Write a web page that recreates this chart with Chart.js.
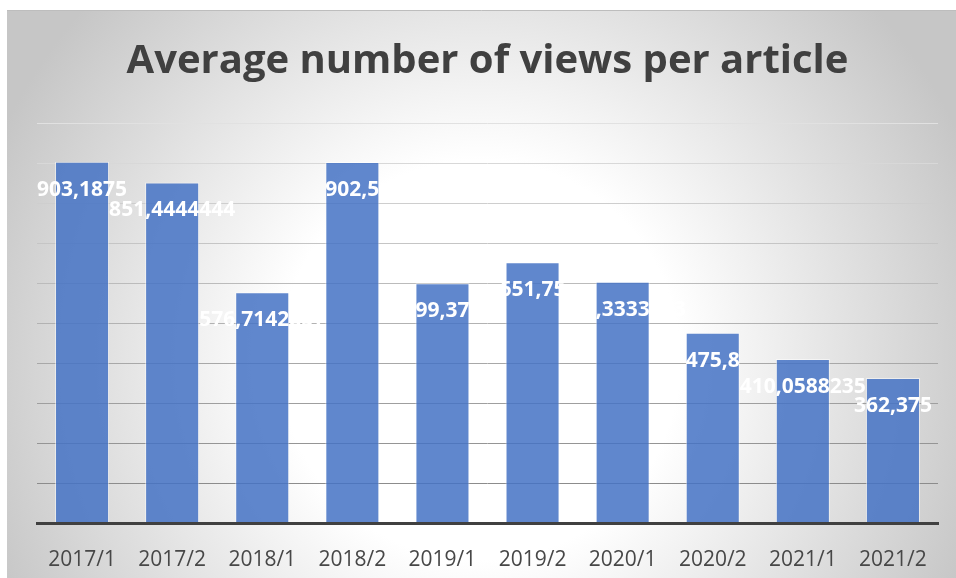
<!DOCTYPE html>
<html>
<head>
<meta charset="utf-8">
<script src="https://cdn.jsdelivr.net/npm/chart.js@4.4.1/dist/chart.umd.min.js"></script>
<style>
  html, body { margin: 0; padding: 0; background: #fff; }
</style>
</head>
<body>
<canvas id="myChart" width="956" height="578"></canvas>
<script>
// data
const periods = ["2017/1", "2017/2", "2018/1", "2018/2", "2019/1", "2019/2", "2020/1", "2020/2", "2021/1", "2021/2"];
const avgViews = [903.1875, 851.4444444, 576.7142857, 902.5, 599.375, 651.75, 603.3333333, 475.8, 410.0588235, 362.375];
const yMin = 0;
const yMax = 1000;
const yStep = 100;

// grey box with the white glow in the middle
const background = {
  id: "background",
  beforeDraw(chart) {
    const ctx = chart.ctx;
    ctx.save();
    ctx.fillStyle = "#fff";
    ctx.fillRect(0, 0, chart.width, chart.height);
    let grad = ctx.createRadialGradient(480, 360, 200, 480, 360, 530);
    grad.addColorStop(0, "#ffffff");
    grad.addColorStop(1, "#c6c6c6");
    ctx.fillStyle = grad;
    ctx.fillRect(7, 10, chart.width - 7, chart.height - 10);
    ctx.strokeStyle = "#bdbdbd";
    ctx.lineWidth = 1;
    ctx.beginPath();
    ctx.moveTo(7, 10.5);
    ctx.lineTo(chart.width, 10.5);
    ctx.stroke();
    ctx.restore();
  },
};

// white value labels, excel style with a decimal comma
const barLabels = {
  id: "barLabels",
  afterDatasetsDraw(chart) {
    const ctx = chart.ctx;
    const meta = chart.getDatasetMeta(0);
    ctx.save();
    ctx.font = "bold 21px 'Open Sans'";
    ctx.fillStyle = "#ffffff";
    ctx.textAlign = "center";
    ctx.textBaseline = "middle";
    meta.data.forEach((bar, i) => {
      const text = String(chart.data.datasets[0].data[i]).replace(".", ",");
      ctx.fillText(text, bar.x, bar.y + 28);
    });
    ctx.restore();
  },
};

let ctx = document.getElementById("myChart").getContext("2d");
new Chart(ctx, {
  type: "bar",
  data: {
    labels: periods,
    datasets: [
      {
        label: "Average views",
        data: avgViews,
        backgroundColor: "rgba(68, 114, 196, 0.85)",
        borderColor: "rgba(255, 255, 255, 0.5)",
        borderWidth: 1,
        categoryPercentage: 1,
        barPercentage: 0.6,
      },
    ],
  },
  options: {
    responsive: false,
    animation: false,
    layout: {
      padding: { left: 37, right: 18, top: 0, bottom: 0 },
    },
    plugins: {
      legend: { display: false },
      tooltip: { enabled: false },
      title: {
        display: true,
        text: "Average number of views per article",
        color: "#404040",
        font: { family: "'Open Sans'", size: 40, weight: "bold" },
        padding: { top: 38, bottom: 37 },
      },
    },
    scales: {
      x: {
        grid: { display: false },
        border: { display: true, color: "#404040", width: 3, z: 1 },
        ticks: {
          color: "#474747",
          padding: 16,
          font: { family: "'Open Sans'", size: 21 },
        },
        afterFit: (scale) => {
          scale.height = 55;
        },
      },
      y: {
        min: yMin,
        max: yMax,
        border: { display: false },
        grid: {
          drawTicks: false,
          color: (c) => {
            const g = Math.round(140 + ((c.tick.value - 100) * 85) / 900);
            return "rgb(" + g + "," + g + "," + g + ")";
          },
        },
        ticks: { display: false, stepSize: yStep },
      },
    },
  },
  plugins: [background, barLabels],
});
</script>
</body>
</html>
